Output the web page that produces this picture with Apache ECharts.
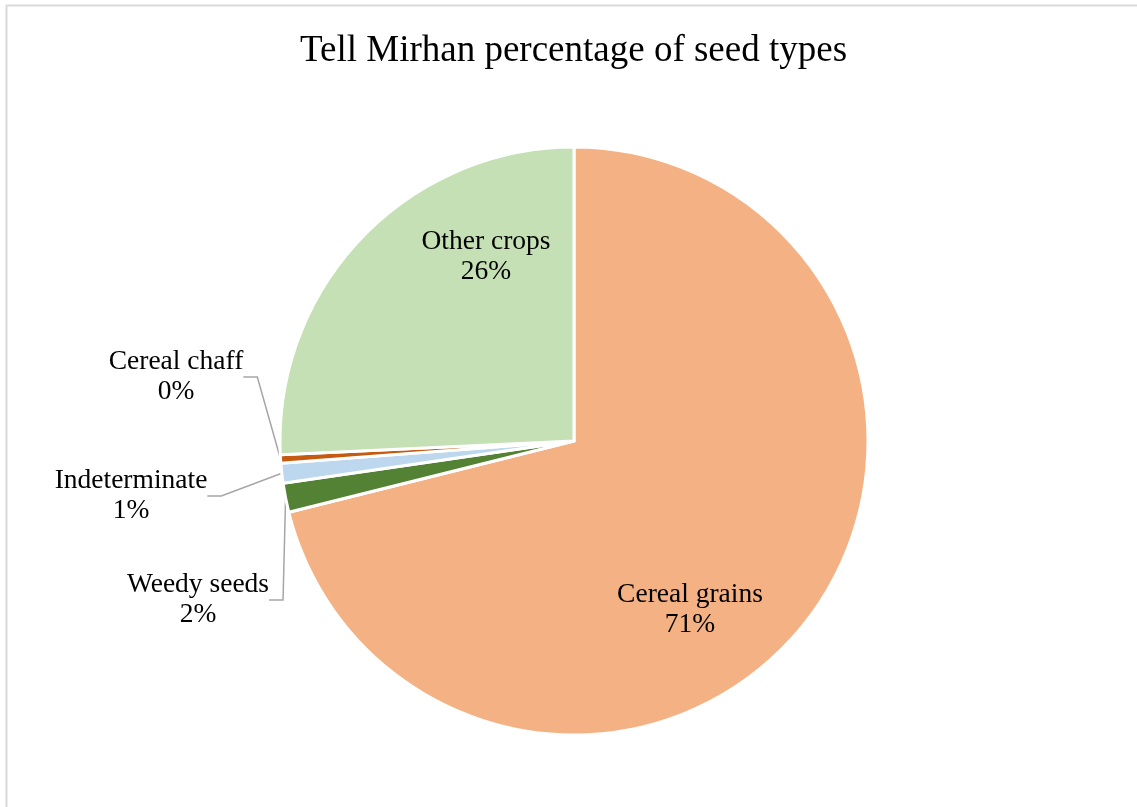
<!DOCTYPE html>
<html>
<head>
<meta charset="utf-8">
<style>
  html, body { margin: 0; padding: 0; background: #ffffff; }
  #chart { width: 1137px; height: 807px; }
</style>
<script src="https://cdn.jsdelivr.net/npm/echarts@6/dist/echarts.min.js"></script>
</head>
<body>
<div id="chart"></div>
<script>
// Seed type shares (percent of the assemblage), clockwise from 12 o'clock
const categories = ['Cereal grains', 'Weedy seeds', 'Indeterminate', 'Cereal chaff', 'Other crops'];
const shares = [71.1, 1.6, 1.1, 0.45, 25.75];
const colors = ['#F4B183', '#548235', '#BDD7EE', '#C55A11', '#C5E0B4'];
// Which labels sit inside their slice
const insideLabel = [true, false, false, false, true];
// Label block centres (px) for each slice
const labelSpots = [[690, 610], [198, 600], [131, 496], [176, 377], [486, 257]];

const serif = '"Liberation Serif", "Times New Roman", serif';

const chart = echarts.init(document.getElementById('chart'), null, { renderer: 'canvas' });

const data = categories.map((name, i) => ({
  name: name,
  value: shares[i],
  itemStyle: { color: colors[i] },
  label: { position: insideLabel[i] ? 'inside' : 'outside' },
  labelLine: { show: !insideLabel[i] }
}));

chart.setOption({
  backgroundColor: '#ffffff',
  animation: false,
  graphic: [{
    type: 'rect',
    shape: { x: 6.5, y: 5.5, width: 1200, height: 900 },
    style: { fill: 'none', stroke: '#d9d9d9', lineWidth: 2 },
    silent: true
  }],
  title: {
    text: 'Tell Mirhan percentage of seed types',
    left: 295,
    top: 28,
    textStyle: { fontFamily: serif, fontSize: 37, fontWeight: 'normal', color: '#000000' }
  },
  series: [{
    type: 'pie',
    center: [574, 441],
    radius: 294,
    startAngle: 90,
    clockwise: true,
    avoidLabelOverlap: false,
    itemStyle: { borderColor: '#ffffff', borderWidth: 3 },
    label: {
      show: true,
      fontFamily: serif,
      fontSize: 27.5,
      lineHeight: 30,
      color: '#000000',
      align: 'center',
      formatter: p => p.name + '\n' + Math.round(p.percent) + '%'
    },
    labelLine: {
      length: 10,
      length2: 14,
      lineStyle: { color: '#a6a6a6', width: 1.5 }
    },
    labelLayout: params => {
      const s = labelSpots[params.dataIndex];
      return { x: s[0], y: s[1], align: 'center', verticalAlign: 'middle' };
    },
    data: data
  }]
});
</script>
</body>
</html>
